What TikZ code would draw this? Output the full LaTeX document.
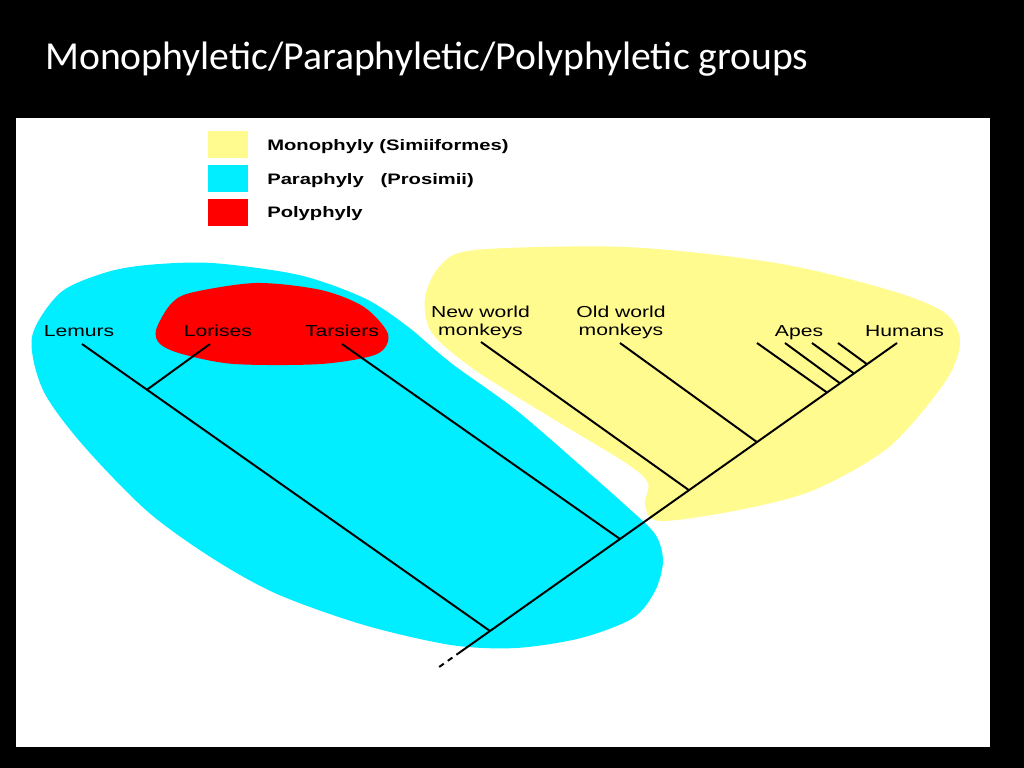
\documentclass[tikz,border=0pt]{standalone}
\usepackage{fontspec}
\setmainfont{Liberation Sans}
\newfontfamily\titlefont{Carlito}
\newfontfamily\labelfont[FakeStretch=1.33]{Liberation Sans}
\definecolor{monoyellow}{HTML}{FFFB8F}
\definecolor{paracyan}{HTML}{00EEFF}
\definecolor{polyred}{HTML}{FF0000}
\def\lab{\labelfont\fontsize{11.3}{12.8}\selectfont}
\def\keylab{\labelfont\fontsize{10.8}{12.8}\selectfont}

\begin{document}
\begin{tikzpicture}[x=0.025cm, y=-0.025cm,
	branch/.style={line width=1.4pt},
	taxon/.style={inner sep=0pt, anchor=base, align=center, font=\lab},
	key/.style={inner sep=0pt, minimum width=1cm, minimum height=0.675cm},
	keytext/.style={inner sep=0pt, anchor=base west, font=\keylab\bfseries}]
	\fill[black] (0,0) rectangle (1024,768);
	\useasboundingbox (0,0) rectangle (1024,768);
	\node[anchor=base west, inner sep=0pt, text=white, font=\titlefont\fontsize{28.2}{32}\selectfont] (title) at (45,70) {Monophyletic/Paraphyletic/Polyphyletic groups};
	\fill[white] (16,118) rectangle (990,747);
	% legend
	\node[key, fill=monoyellow] (kmono) at (228,144.5) {};
	\node[key, fill=paracyan] (kpara) at (228,178.5) {};
	\node[key, fill=polyred] (kpoly) at (228,212.5) {};
	\node[keytext] (tmono) at (267,150.5) {Monophyly (Simiiformes)};
	\node[keytext] (tpara) at (267,184) {Paraphyly\ \ \ (Prosimii)};
	\node[keytext] (tpoly) at (267,217.5) {Polyphyly};
	% groups
	\fill[monoyellow] plot[smooth cycle] coordinates {(475,250) (626,247) (776,263) (889,290) (945,313) (960,342) (945,382) (889,447) (814,490) (739,510) (660,521) (645,505) (648,483) (626,463) (550,417) (475,370) (432,333) (425,298) (440,266)};
	\fill[paracyan] plot[smooth cycle] coordinates {(147,265) (212,263) (299,275) (364,298) (407,326) (451,363) (516,410) (581,466) (624,504) (655,534) (663,561) (655,591) (633,618) (581,638) (516,648) (451,645) (364,625) (277,594) (212,558) (147,511) (82,444) (43,390) (32,337) (60,293) (104,273)};
	\fill[polyred] plot[smooth cycle] coordinates {(156,330) (170,305) (190,293) (256,283) (321,290) (364,307) (388,334) (377,354) (321,364) (234,364) (182,354) (160,344)};
	% taxa
	\node[taxon] (lemurs) at (79,336) {Lemurs};
	\node[taxon] (lorises) at (218,336) {Lorises};
	\node[taxon] (tarsiers) at (342,336) {Tarsiers};
	\node[taxon] (newworld) at (480.5,335.5) {New world\\monkeys};
	\node[taxon] (oldworld) at (621,335.5) {Old world\\monkeys};
	\node[taxon] (apes) at (799,336) {Apes};
	\node[taxon] (humans) at (904.5,336) {Humans};
	% tips
	\coordinate (tlem) at (82,344);
	\coordinate (tlor) at (210,344);
	\coordinate (ttar) at (342,344);
	\coordinate (tnew) at (481,342);
	\coordinate (told) at (620,343);
	\coordinate (tape1) at (757,343);
	\coordinate (tape2) at (785,343);
	\coordinate (tape3) at (812,343);
	\coordinate (tape4) at (838,343);
	\coordinate (thum) at (897,343);
	% junctions
	\coordinate (root) at (490,631);
	\coordinate (jlor) at (147,389.7);
	\coordinate (jtar) at (620,539);
	\coordinate (jnew) at (689,490.2);
	\coordinate (jold) at (757,442.1);
	\coordinate (jape1) at (827,392.5);
	\coordinate (jape2) at (840,383.3);
	\coordinate (jape3) at (854,373.4);
	\coordinate (jape4) at (867,364.2);
	\coordinate (stem) at (461,651.5);
	\coordinate (base) at (437,668.5);
	% tree
	\draw[branch] (tlem) -- (root);
	\draw[branch] (tlor) -- (jlor);
	\draw[branch] (ttar) -- (jtar);
	\draw[branch] (tnew) -- (jnew);
	\draw[branch] (told) -- (jold);
	\foreach \i in {1,2,3,4}
		\draw[branch] (tape\i) -- (jape\i);
	\draw[branch] (thum) -- (root) -- (stem);
	\draw[branch, dash pattern=on 4pt off 3.5pt] (stem) -- (base);
\end{tikzpicture}
\end{document}
